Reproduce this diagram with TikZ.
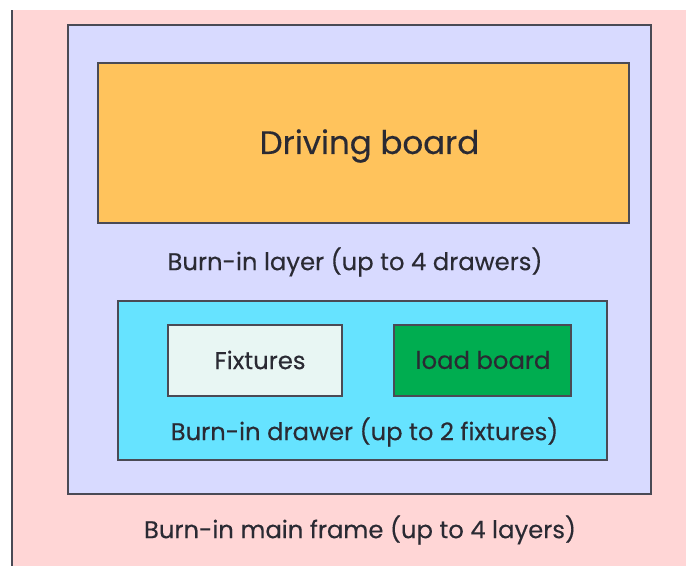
\documentclass[tikz,border=0pt]{standalone}
\usepackage{fontspec}
\setmainfont[FakeBold=0.25]{Poppins}
\definecolor{bgpink}{HTML}{FFD6D6}
\definecolor{lay}{HTML}{D8DAFF}
\definecolor{drv}{HTML}{FFC35C}
\definecolor{drw}{HTML}{66E3FF}
\definecolor{fix}{HTML}{E8F6F3}
\definecolor{lb}{HTML}{00AD50}
\definecolor{ink}{HTML}{2A2A33}
\definecolor{edgec}{HTML}{4A4A55}
\tikzset{boxa/.style={draw=edgec,line width=1.7pt,inner sep=0pt,anchor=north west},
lbl/.style={text=ink,inner sep=0pt,font=\fontsize{24.3pt}{28pt}\selectfont}}
\begin{document}
\begin{tikzpicture}[x=1pt,y=-1pt]
\useasboundingbox (0,0) rectangle (686,566);
\fill[white] (0,0) rectangle (686,566);
\fill[bgpink] (12,10) rectangle (686,566);
\draw[edgec,line width=1.8pt] (12,10) -- (12,566);
\node[boxa,fill=lay,minimum width=582.5pt,minimum height=468.5pt] (layer) at (67.3,24.3) {};
\node[boxa,fill=drv,minimum width=530.5pt,minimum height=159.5pt] (driving) at (97.3,62.3) {};
\node[text=ink,inner sep=0pt,font=\fontsize{32.5pt}{36pt}\selectfont] (drivingt) at (369.5,146) {Driving board};
\node[lbl] (layert) at (355,262) {Burn-in layer (up to 4 drawers)};
\node[boxa,fill=drw,minimum width=488.5pt,minimum height=158.5pt] (drawer) at (117.3,300.3) {};
\node[boxa,fill=fix,minimum width=174pt,minimum height=70.5pt] (fixtures) at (167.3,324.3) {};
\node[lbl] (fixt) at (260,360) {Fixtures};
\node[boxa,fill=lb,minimum width=176.5pt,minimum height=70.5pt] (load) at (393.3,324.3) {};
\node[lbl] (loadt) at (483,360) {load board};
\node[lbl] (drawert) at (364.5,432) {Burn-in drawer (up to 2 fixtures)};
\node[lbl] (framet) at (360,530) {Burn-in main frame (up to 4 layers)};
\end{tikzpicture}
\end{document}
